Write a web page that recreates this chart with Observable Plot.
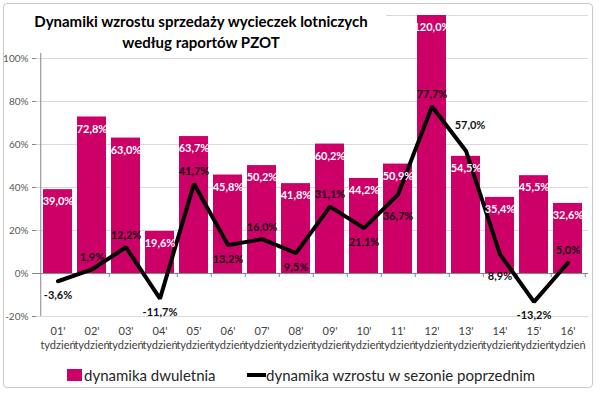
<!DOCTYPE html>
<html>
<head>
<meta charset="utf-8">
<script src="https://cdn.jsdelivr.net/npm/d3@7"></script>
<script src="https://cdn.jsdelivr.net/npm/@observablehq/plot@0.6"></script>
<style>
  html, body { margin: 0; padding: 0; background: #fff; }
  #wrap { position: relative; width: 600px; height: 394px; overflow: hidden; font-family: Lato, "Open Sans", sans-serif; }
  #border { position: absolute; left: 3px; top: 3px; width: 590px; height: 385px; border: 1px solid #c8c8c8; border-radius: 4px; box-sizing: border-box; }
  #chart { position: absolute; left: 0; top: 0; }
  #titlebg { position: absolute; left: 34px; top: 6px; width: 352px; height: 47px; background: #fff; }
  #title { position: absolute; left: 0; top: 11px; width: 402px; text-align: center; font-weight: bold; font-size: 15px; line-height: 21px; color: #000; }
  #legend { position: absolute; left: 0; top: 365px; width: 600px; height: 20px; font-size: 15px; color: #262626; }
  .lg { position: absolute; top: 0; white-space: nowrap; line-height: 20px; }
  .sw { position: absolute; }
</style>
</head>
<body>
<div id="wrap">
  <div id="border"></div>
  <div id="chart"></div>
  <div id="titlebg"></div>
  <div id="title">Dynamiki wzrostu sprzedaży wycieczek lotniczych<br>według raportów PZOT</div>
  <div id="legend">
    <div class="sw" style="left:67px; top:4px; width:15px; height:12px; background:#CC0066;"></div>
    <div class="lg" style="left:84px;">dynamika dwuletnia</div>
    <div class="sw" style="left:247px; top:8px; width:19px; height:4px; background:#000;"></div>
    <div class="lg" style="left:266px;">dynamika wzrostu w sezonie poprzednim</div>
  </div>
</div>
<script>
const categories = ["01'", "02'", "03'", "04'", "05'", "06'", "07'", "08'", "09'", "10'", "11'", "12'", "13'", "14'", "15'", "16'"];
const dwuletnia = [39.0, 72.8, 63.0, 19.6, 63.7, 45.8, 50.2, 41.8, 60.2, 44.2, 50.9, 120.0, 54.5, 35.4, 45.5, 32.6];
const sezonPoprzedni = [-3.6, 1.9, 12.2, -11.7, 41.7, 13.2, 16.0, 9.5, 31.1, 21.1, 36.7, 77.7, 57.0, 8.9, -13.2, 5.0];
const lineLabelPlacement = ["below", "above", "above", "below", "above", "below", "above", "below", "above", "below", "farBelow", "above", "aboveRight", "farBelow", "below", "above"];
const yTicks = [-20, 0, 20, 40, 60, 80, 100];
const gridTicks = [-20, 20, 40, 60, 80, 100, 120];

const placementDy = { above: -12, below: 14, farBelow: 22, aboveRight: -25 };
const placementDx = { above: 0, below: 0, farBelow: 0, aboveRight: 4 };

const data = categories.map((c, i) => ({
  week: c,
  bar: dwuletnia[i],
  line: sezonPoprzedni[i],
  pos: lineLabelPlacement[i]
}));

const fmt = v => v.toFixed(1).replace(".", ",") + "%";
const halfStep = 17.25;

const chart = Plot.plot({
  width: 600,
  height: 360,
  marginLeft: 36,
  marginRight: 12,
  marginTop: 15,
  marginBottom: 44,
  style: { fontFamily: "Lato, 'Open Sans', sans-serif", background: "transparent", overflow: "visible" },
  x: { domain: categories, paddingInner: 0.16, paddingOuter: 0.08, label: null },
  y: { domain: [-20, 120], label: null },
  marks: [
    Plot.ruleY(gridTicks, { stroke: "#d9d9d9", strokeWidth: 1 }),
    Plot.barY(data, { x: "week", y: "bar", fill: "#CC0066" }),
    Plot.ruleY([0], { stroke: "#868686" }),
    Plot.ruleX(categories, { x: d => d, y1: 0, y2: -1.9, dx: halfStep, stroke: "#868686" }),
    Plot.ruleX([categories[0]], { x: d => d, y1: -20, y2: 120, dx: -halfStep, stroke: "#868686" }),
    Plot.axisY({ ticks: yTicks, tickFormat: d => d + "%", tickSize: 4, tickPadding: 4, stroke: "#868686", fill: "#595959", fontSize: 10 }),
    Plot.line(data, { x: "week", y: "line", stroke: "#000", strokeWidth: 4, strokeLinejoin: "miter" }),
    Plot.text(data, { x: "week", y: "bar", text: d => fmt(d.bar), fill: "#fff", fontWeight: "bold", fontSize: 11, dy: 12 }),
    Plot.text(data.filter(d => d.pos === "above"), { x: "week", y: "line", text: d => fmt(d.line), fill: "#111", fontWeight: "bold", fontSize: 11, dy: placementDy.above }),
    Plot.text(data.filter(d => d.pos === "below"), { x: "week", y: "line", text: d => fmt(d.line), fill: "#111", fontWeight: "bold", fontSize: 11, dy: placementDy.below }),
    Plot.text(data.filter(d => d.pos === "farBelow"), { x: "week", y: "line", text: d => fmt(d.line), fill: "#111", fontWeight: "bold", fontSize: 11, dy: placementDy.farBelow }),
    Plot.text(data.filter(d => d.pos === "aboveRight"), { x: "week", y: "line", text: d => fmt(d.line), fill: "#111", fontWeight: "bold", fontSize: 11, dy: placementDy.aboveRight, dx: placementDx.aboveRight }),
    Plot.axisX({ anchor: "bottom", tickSize: 0, tickPadding: 9, tickFormat: d => d + "\ntydzień", fontSize: 11, fill: "#404040", lineHeight: 1.27 })
  ]
});
document.getElementById("chart").appendChild(chart);
</script>
</body>
</html>
